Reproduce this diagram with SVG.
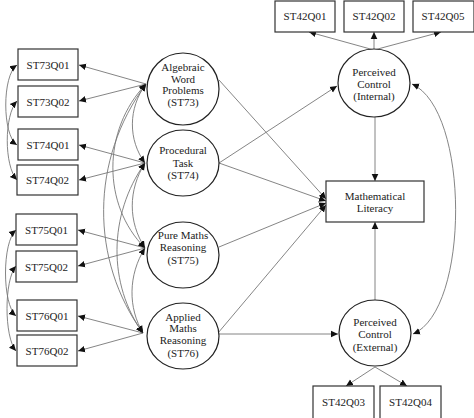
<svg xmlns="http://www.w3.org/2000/svg" width="474" height="418" viewBox="0 0 474 418">
<style>
.box{fill:#fff;stroke:#333;stroke-width:1.2}
.lat{fill:#fff;stroke:#222;stroke-width:1.2}
.t{font-family:"Liberation Serif","Times New Roman",serif;font-size:11px;fill:#222;text-anchor:middle}
.c{fill:none;stroke:#777;stroke-width:0.9}
.e{marker-end:url(#ah)}
.b{marker-start:url(#ah);marker-end:url(#ah)}
</style>
<defs>
<marker id="ah" markerUnits="userSpaceOnUse" markerWidth="8" markerHeight="8" refX="7" refY="4" orient="auto-start-reverse">
<path d="M0,0.7 L7,4 L0,7.3 Z" fill="#111"/>
</marker>
</defs>
<rect width="474" height="418" fill="#fff"/>
<g id="connectors">
<!-- indicators left -->
<path class="c e" d="M146,84 L79,65"/>
<path class="c e" d="M146,84 L79,101"/>
<path class="c e" d="M145,163 L79,145"/>
<path class="c e" d="M145,163 L79,180"/>
<path class="c e" d="M145,248 L78,230"/>
<path class="c e" d="M145,248 L78,266"/>
<path class="c e" d="M143,333 L78,316"/>
<path class="c e" d="M143,333 L78,351"/>
<!-- error covariances -->
<path class="c b" d="M17,65 C2,75 2,135 17,145"/>
<path class="c b" d="M17,101 C4,115 4,166 17,180"/>
<path class="c b" d="M16,230 C2,242 2,304 16,316"/>
<path class="c b" d="M16,266 C4,280 4,337 16,351"/>
<!-- latent covariances -->
<path class="c b" d="M146,84 C128,108 128,140 145,163"/>
<path class="c b" d="M146,84 C102,130 102,205 145,248"/>
<path class="c b" d="M146,84 C90,160 90,260 143,333"/>
<path class="c b" d="M145,163 C128,190 128,222 145,248"/>
<path class="c b" d="M145,163 C108,215 108,285 143,333"/>
<path class="c b" d="M145,248 C128,275 128,308 143,333"/>
<!-- structural -->
<path class="c e" d="M219,80 L326,199"/>
<path class="c e" d="M219,163 L337,86"/>
<path class="c e" d="M219,163 L326,201"/>
<path class="c e" d="M219,247 L326,203"/>
<path class="c e" d="M218,333 L326,205"/>
<path class="c e" d="M219,334 L338,334"/>
<path class="c e" d="M375,117 L375,181"/>
<path class="c e" d="M375,300 L375,222"/>
<!-- internal indicators -->
<path class="c e" d="M374,50 L309,32"/>
<path class="c e" d="M374,50 L374,32"/>
<path class="c e" d="M374,50 L441,32"/>
<!-- external indicators -->
<path class="c e" d="M375,367 L346,386"/>
<path class="c e" d="M375,367 L407,386"/>
<!-- internal-external covariance -->
<path class="c b" d="M412,84 C470,110 470,310 413,334"/>
</g>
<g id="ST73Q01"><rect class="box" x="18" y="49" width="60" height="31"/><text class="t" x="48" y="68.5">ST73Q01</text></g>
<g id="ST73Q02"><rect class="box" x="18" y="86" width="60" height="31"/><text class="t" x="48" y="105.5">ST73Q02</text></g>
<g id="ST74Q01"><rect class="box" x="18" y="129" width="60" height="31"/><text class="t" x="48" y="148.5">ST74Q01</text></g>
<g id="ST74Q02"><rect class="box" x="17" y="165" width="61" height="30"/><text class="t" x="47.5" y="184">ST74Q02</text></g>
<g id="ST75Q01"><rect class="box" x="16" y="214" width="61" height="31"/><text class="t" x="46.5" y="233.5">ST75Q01</text></g>
<g id="ST75Q02"><rect class="box" x="16" y="251" width="61" height="31"/><text class="t" x="46.5" y="270.5">ST75Q02</text></g>
<g id="ST76Q01"><rect class="box" x="17" y="300" width="60" height="31"/><text class="t" x="47" y="319.5">ST76Q01</text></g>
<g id="ST76Q02"><rect class="box" x="17" y="335" width="60" height="31"/><text class="t" x="47" y="354.5">ST76Q02</text></g>
<g id="ST73"><ellipse class="lat" cx="183" cy="89" rx="36" ry="36"/><text class="t" x="183" y="71">Algebraic</text><text class="t" x="183" y="82.5">Word</text><text class="t" x="183" y="94">Problems</text><text class="t" x="183" y="106">(ST73)</text></g>
<g id="ST74"><ellipse class="lat" cx="183" cy="163" rx="36" ry="33"/><text class="t" x="183" y="154">Procedural</text><text class="t" x="183" y="166.5">Task</text><text class="t" x="183" y="179">(ST74)</text></g>
<g id="ST75"><ellipse class="lat" cx="183" cy="255" rx="36" ry="33"/><text class="t" x="183" y="239">Pure Maths</text><text class="t" x="183" y="251">Reasoning</text><text class="t" x="183" y="264">(ST75)</text></g>
<g id="ST76"><ellipse class="lat" cx="183" cy="336" rx="36" ry="33"/><text class="t" x="183" y="321">Applied</text><text class="t" x="183" y="332">Maths</text><text class="t" x="183" y="344">Reasoning</text><text class="t" x="183" y="357">(ST76)</text></g>
<g id="ST42Q01"><rect class="box" x="275" y="1" width="60" height="31"/><text class="t" x="305" y="20">ST42Q01</text></g>
<g id="ST42Q02"><rect class="box" x="344" y="1" width="60" height="31"/><text class="t" x="374" y="20">ST42Q02</text></g>
<g id="ST42Q05"><rect class="box" x="413" y="1" width="61" height="31"/><text class="t" x="443" y="20">ST42Q05</text></g>
<g id="PCI"><ellipse class="lat" cx="374" cy="83" rx="36" ry="34"/><text class="t" x="374" y="76">Perceived</text><text class="t" x="374" y="88">Control</text><text class="t" x="374" y="100">(Internal)</text></g>
<g id="ML"><rect class="box" x="326" y="181" width="98" height="41"/><text class="t" x="375" y="200">Mathematical</text><text class="t" x="375" y="212">Literacy</text></g>
<g id="PCE"><ellipse class="lat" cx="375" cy="333" rx="36" ry="33"/><text class="t" x="375" y="326">Perceived</text><text class="t" x="375" y="338">Control</text><text class="t" x="375" y="351">(External)</text></g>
<g id="ST42Q03"><rect class="box" x="313" y="386" width="61" height="34"/><text class="t" x="343.5" y="406">ST42Q03</text></g>
<g id="ST42Q04"><rect class="box" x="380" y="386" width="61" height="34"/><text class="t" x="410.5" y="406">ST42Q04</text></g>
</svg>
